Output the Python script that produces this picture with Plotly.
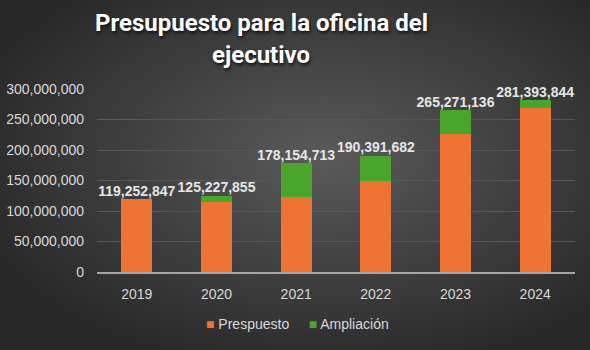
import plotly.graph_objects as go
import base64

years = ["2019", "2020", "2021", "2022", "2023", "2024"]
presupuesto = [119252847, 115000000, 123000000, 149000000, 226000000, 269000000]
ampliacion = [0, 10227855, 55154713, 41391682, 39271136, 12393844]
totales = [119252847, 125227855, 178154713, 190391682, 265271136, 281393844]
tick_vals = [0, 50000000, 100000000, 150000000, 200000000, 250000000, 300000000]
series_names = ["Prespuesto", "Ampliación"]
series_colors = ["#ef7434", "#4aa52c"]

W, H = 590, 350
L, R, T, B = 97, 15, 89, 78
pw, ph = W - L - R, H - T - B

svg = """<svg xmlns='http://www.w3.org/2000/svg' width='590' height='350'>
<defs><radialGradient id='g' cx='55%' cy='45%' r='65%'>
<stop offset='0%' stop-color='#5a5a5a'/><stop offset='100%' stop-color='#262626'/>
</radialGradient></defs><rect width='590' height='350' fill='url(#g)'/></svg>"""
src = "data:image/svg+xml;base64," + base64.b64encode(svg.encode()).decode()

fig = go.Figure()
fig.add_trace(go.Bar(x=years, y=presupuesto, name=series_names[0],
                     marker=dict(color=series_colors[0], line=dict(width=0))))
fig.add_trace(go.Bar(x=years, y=ampliacion, name=series_names[1],
                     marker=dict(color=series_colors[1], line=dict(width=0))))
fig.add_trace(go.Scatter(x=years, y=totales, mode="text",
                         text=[f"{v:,}" for v in totales],
                         textposition="top center", showlegend=False,
                         cliponaxis=False, hoverinfo="skip",
                         textfont=dict(family="Liberation Sans, Arial", size=14,
                                       color="#e6e6e6", weight="bold")))

legend_text = "     ".join(
    f"<span style='color:{c}'>■</span> {n}" for n, c in zip(series_names, series_colors))


def px(x, y):
    return (x - L) / pw, (H - y - B) / ph


t1 = px(261, 23)
t2 = px(261, 55)
lg = px(297, 324)
title_font = dict(family="Roboto", size=24, color="white", weight="bold",
                  shadow="1px 2px 3px #111111")

fig.update_layout(
    width=W, height=H,
    margin=dict(l=L, r=R, t=T, b=B, autoexpand=False),
    barmode="stack", bargap=0.61,
    paper_bgcolor="#3a3a3a", plot_bgcolor="rgba(0,0,0,0)",
    images=[dict(source=src, xref="paper", yref="paper",
                 x=-L / pw, y=1 + T / ph, sizex=W / pw, sizey=H / ph,
                 xanchor="left", yanchor="top", sizing="stretch", layer="below")],
    annotations=[
        dict(text="Presupuesto para la oficina del", x=t1[0], y=t1[1],
             xref="paper", yref="paper", showarrow=False, font=title_font,
             xanchor="center", yanchor="middle"),
        dict(text="ejecutivo", x=t2[0], y=t2[1],
             xref="paper", yref="paper", showarrow=False, font=title_font,
             xanchor="center", yanchor="middle"),
        dict(text=legend_text, x=lg[0], y=lg[1], xref="paper", yref="paper",
             showarrow=False, xanchor="center", yanchor="middle",
             font=dict(family="Liberation Sans, Arial", size=14, color="#d9d9d9")),
    ],
    font=dict(family="Liberation Sans, Arial", size=13.5, color="#d9d9d9"),
    showlegend=False,
)

fig.update_yaxes(range=[0, 300000000], tickvals=tick_vals,
                 ticktext=[f"{v:,}" for v in tick_vals],
                 showgrid=True, gridcolor="#575757", gridwidth=1,
                 zeroline=False, showline=False, ticks="", ticklabelstandoff=12,
                 tickfont=dict(size=14), automargin=False)
fig.update_xaxes(showgrid=False, showline=True, linecolor="#a6a6a6", linewidth=2,
                 ticks="", ticklabelstandoff=8, automargin=False,
                 tickfont=dict(size=14, color="#d9d9d9"))

fig.write_html("out.html")
